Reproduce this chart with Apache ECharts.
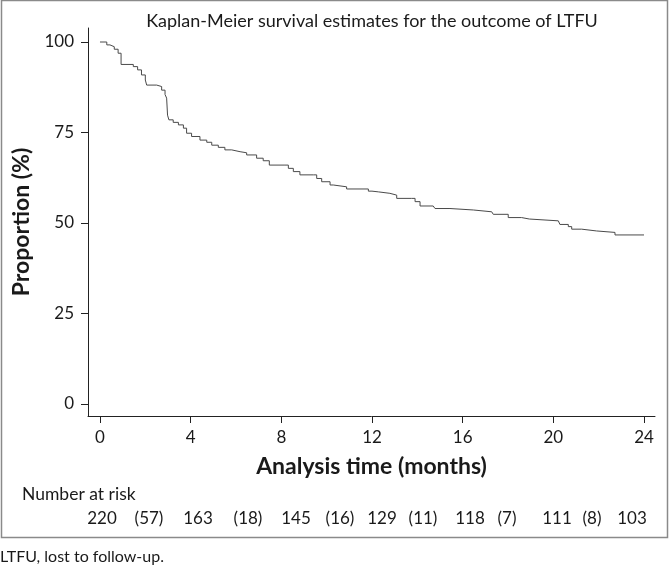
<!DOCTYPE html>
<html>
<head>
<meta charset="utf-8">
<script src="https://cdn.jsdelivr.net/npm/echarts@6/dist/echarts.min.js"></script>
<style>
html,body{margin:0;padding:0;background:#fff;}
#chart{width:670px;height:568px;}
</style>
</head>
<body>
<div id="chart"></div>
<script>
// Kaplan-Meier step points: time (months) and survival (%) after each drop
var kmTime = [0, 0.3, 0.44, 0.63, 0.8, 0.93, 1.47, 1.66, 1.83, 2.0, 2.06, 2.5, 2.72, 2.87, 2.94, 2.98, 3.04, 3.23, 3.46, 3.68, 3.82, 4.04, 4.41, 4.71, 4.93, 5.22, 5.51, 5.81, 6.18, 6.47, 6.91, 7.2, 7.47, 8.16, 8.31, 8.53, 8.82, 9.41, 9.56, 9.78, 10.15, 10.29, 10.88, 11.84, 12.0, 12.28, 12.79, 13.09, 13.75, 13.9, 14.12, 14.7, 14.78, 15.44, 15.49, 16.47, 17.28, 17.35, 18.01, 18.6, 18.94, 20.22, 20.29, 20.66, 20.81, 21.25, 21.91, 22.72, 24.0];
var kmSurv = [100, 99.2, 98.7, 98.0, 96.9, 93.8, 93.2, 92.3, 90.9, 89.5, 88.1, 87.7, 86.7, 85.5, 84.5, 79.8, 78.5, 77.8, 77.1, 76.2, 74.8, 73.9, 72.9, 72.3, 71.5, 70.9, 70.2, 69.7, 69.4, 68.8, 67.9, 67.2, 66.0, 66.0, 65.1, 64.2, 63.3, 63.3, 62.3, 61.4, 60.5, 60.0, 59.4, 58.8, 58.6, 58.2, 57.7, 56.8, 56.8, 55.9, 54.7, 54.7, 54.0, 54.0, 53.6, 53.1, 53.1, 52.4, 51.5, 51.1, 50.6, 50.6, 49.6, 49.0, 48.3, 47.8, 47.4, 46.7, 46.7];

var xTicks = [0, 4, 8, 12, 16, 20, 24];
var yTicks = [0, 25, 50, 75, 100];

var atRisk = [220, 163, 145, 129, 118, 111, 103];
var lost = [57, 18, 16, 11, 7, 8];

var titleText = 'Kaplan-Meier survival estimates for the outcome of LTFU';
var yName = 'Proportion (%)';
var xName = 'Analysis time (months)';
var riskLabel = 'Number at risk';
var footnote = 'LTFU, lost to follow-up.';

var FONT = 'Lato';
var TXT = '#1a1a1a';
var chart = echarts.init(document.getElementById('chart'));

var kmData = kmTime.map(function (t, i) { return [t, kmSurv[i]]; });

// positions (px) of the at-risk row entries: numbers and bracketed losses alternate
var riskX = [102, 198, 296, 382, 470, 557, 632];
var lostX = [149, 248, 340, 423, 507, 592];

var graphics = [
  { type: 'rect', shape: { x: 1.5, y: 0.5, width: 666, height: 537 }, style: { fill: 'none', stroke: '#8a8a8a', lineWidth: 1.5 }, silent: true },
  { type: 'text', x: 22, y: 494, style: { text: riskLabel, font: '17.5px ' + FONT, fill: TXT, textVerticalAlign: 'middle', textAlign: 'left' } },
  { type: 'text', x: 0, y: 557, style: { text: footnote, font: '16px ' + FONT, fill: TXT, textVerticalAlign: 'middle', textAlign: 'left' } }
];
atRisk.forEach(function (v, i) {
  graphics.push({ type: 'text', x: riskX[i], y: 519, style: { text: String(v), font: '17px ' + FONT, fill: TXT, textAlign: 'center', textVerticalAlign: 'middle' } });
});
lost.forEach(function (v, i) {
  graphics.push({ type: 'text', x: lostX[i], y: 519, style: { text: '(' + v + ')', font: '17px ' + FONT, fill: TXT, textAlign: 'center', textVerticalAlign: 'middle' } });
});

var option = {
  backgroundColor: '#fff',
  animation: false,
  title: {
    text: titleText,
    left: 367, top: 7, textAlign: 'center',
    textStyle: { fontFamily: FONT, fontSize: 18, fontWeight: 'normal', color: TXT }
  },
  grid: { left: 88, right: 15, top: 28, bottom: 152, containLabel: false },
  xAxis: {
    type: 'value', min: -0.529, max: 24.485,
    name: xName, nameLocation: 'middle', nameGap: 39,
    nameTextStyle: { fontFamily: FONT, fontSize: 23, fontWeight: 'bold', color: TXT },
    axisLine: { show: true, onZero: false, lineStyle: { color: '#222', width: 1 } },
    axisTick: { show: true, length: 7, customValues: xTicks, lineStyle: { color: '#222' } },
    axisLabel: { customValues: xTicks, margin: 13, fontFamily: FONT, fontSize: 17, color: TXT },
    splitLine: { show: false }
  },
  yAxis: {
    type: 'value', min: -3.315, max: 103.87,
    name: yName, nameLocation: 'middle', nameGap: 47, nameRotate: 90,
    nameTextStyle: { fontFamily: FONT, fontSize: 23, fontWeight: 'bold', color: TXT },
    axisLine: { show: true, onZero: false, lineStyle: { color: '#222', width: 1 } },
    axisTick: { show: true, length: 7, customValues: yTicks, lineStyle: { color: '#222' } },
    axisLabel: { customValues: yTicks, margin: 14, fontFamily: FONT, fontSize: 17, color: TXT },
    splitLine: { show: false }
  },
  series: [{
    type: 'line', step: 'end', data: kmData, showSymbol: false, symbol: 'none',
    lineStyle: { color: '#4a4a4a', width: 1 }
  }],
  graphic: graphics
};
chart.setOption(option);
</script>
</body>
</html>
